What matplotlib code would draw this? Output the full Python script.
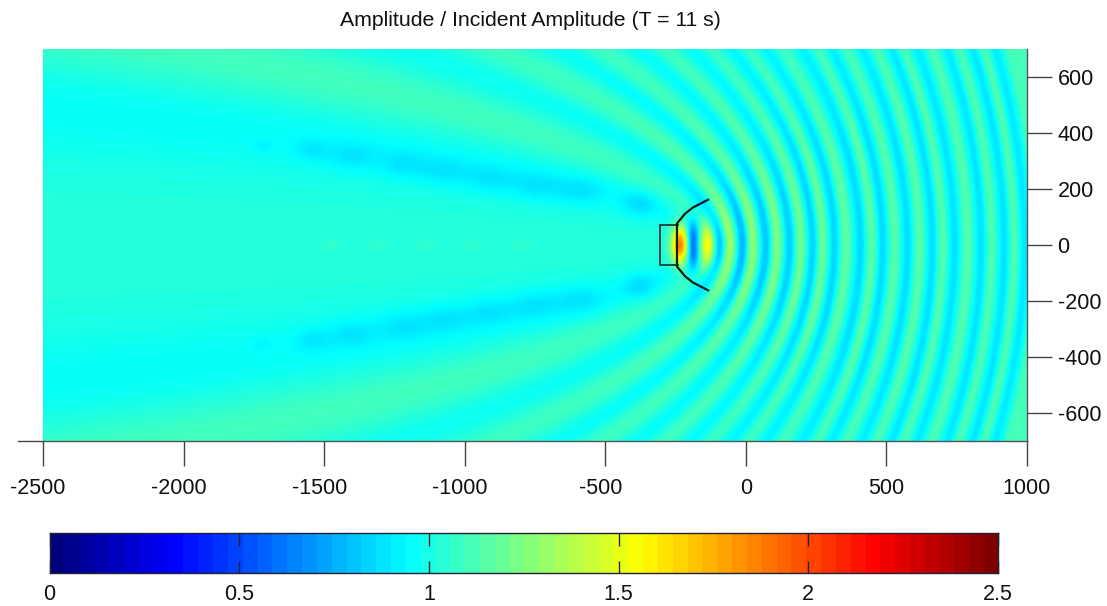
import numpy as np
import matplotlib
matplotlib.use("Agg")
import matplotlib.pyplot as plt
from matplotlib.colors import LinearSegmentedColormap
from matplotlib.lines import Line2D
from matplotlib.transforms import ScaledTranslation

plt.rcParams['font.family'] = ['Liberation Sans', 'DejaVu Sans']

# --- values ---
title = "Amplitude / Incident Amplitude (T = 11 s)"
x_ticks = [-2500, -2000, -1500, -1000, -500, 0, 500, 1000]
y_ticks = [-600, -400, -200, 0, 200, 400, 600]
cb_ticks = [0, 0.5, 1, 1.5, 2, 2.5]
cb_labels = ["0", "0.5", "1", "1.5", "2", "2.5"]

focus_x = -190
# ring extrema read on the axis y = 0, seaward of the structure
axis_x = [-190, -130, -95, -56, -10, 25, 72, 111, 157, 196, 239, 274, 317, 356, 410, 449,
          488, 531, 577, 619, 666, 701, 744, 790, 840, 875, 922, 957, 993, 1040]
axis_v = [1.05, 1.0, 0.70, 1.32, 0.76, 1.28, 0.80, 1.24, 0.82, 1.21, 0.83, 1.19, 0.84, 1.17, 0.85, 1.16,
          0.85, 1.15, 0.86, 1.15, 0.86, 1.14, 0.87, 1.14, 0.87, 1.13, 0.87, 1.13, 0.88, 1.12]
# broad bands of the lee side, against the parabolic ring coordinate
wake_s = [0, 50, 130, 220, 300, 390, 470, 560, 640, 730, 1400]
wake_v = [1.02, 0.95, 1.10, 0.98, 1.07, 0.98, 1.06, 0.98, 1.05, 0.99, 1.0]
# share of the seaward rings by bearing from the structure
bearing = [0, 30, 50, 70, 100, 130, 160, 180]
share = [1.0, 0.92, 0.72, 0.5, 0.28, 0.12, 0.0, 0.0]
# local spots: x, y, change of value, half-widths (mirrored in y where y != 0)
spot_x = [-232, -186, -138, -1721, -1543, -1401, -1223, -1070, -910, -750, -590, -376,
          -1480, -1310, -1140, -975, -800]
spot_y = [0, 0, 0, 354, 340, 318, 290, 262, 236, 210, 194, 148,
          0, 0, 0, 0, 0]
spot_dv = [0.88, -0.60, 0.56, -0.04, -0.07, -0.08, -0.08, -0.08, -0.08, -0.08, -0.08, -0.10,
           0.04, 0.04, 0.04, 0.04, 0.04]
spot_sx = [22, 18, 24, 25, 48, 60, 65, 65, 65, 65, 65, 45,
           25, 25, 25, 25, 25]
spot_sy = [50, 58, 58, 16, 28, 36, 38, 38, 38, 38, 38, 34,
           15, 15, 15, 15, 15]
# outline of the structure
basin_x = [-241, -305, -305, -241]
basin_y = [71, 71, -71, -71]
arm_x = [-134, -188, -216, -245, -245, -216, -188, -134]
arm_y = [162, 134, 112, 77, -77, -112, -134, -162]

# --- field ---
x = np.linspace(-2500, 1000, 701)
y = np.linspace(-700, 700, 281)
X, Y = np.meshgrid(x, y)
R = np.hypot(X - focus_x, Y)
S = R + X - focus_x
TH = np.degrees(np.arctan2(np.abs(Y), X - focus_x))


def eased(q, qs, vs):
    qs = np.asarray(qs, float)
    vs = np.asarray(vs, float)
    i = np.clip(np.searchsorted(qs, q) - 1, 0, len(qs) - 2)
    t = np.clip((q - qs[i]) / (qs[i + 1] - qs[i]), 0, 1)
    return vs[i] + (vs[i + 1] - vs[i]) * (1 - np.cos(np.pi * t)) / 2


forward = eased(S / 2 + focus_x, axis_x, axis_v)
wake = eased(S, wake_s, wake_v)
F = np.interp(TH, bearing, share)
Z = 1 + F * (forward - 1) + (1 - F) * (wake - 1)
for sx0, sy0, dv, wx, wy in zip(spot_x, spot_y, spot_dv, spot_sx, spot_sy):
    Z = Z + dv * np.exp(-((X - sx0) / wx) ** 2 / 2 - ((Y - sy0) / wy) ** 2 / 2)
    if sy0 != 0:
        Z = Z + dv * np.exp(-((X - sx0) / wx) ** 2 / 2 - ((Y + sy0) / wy) ** 2 / 2)

jet = LinearSegmentedColormap.from_list("jet_m", [
    (0.0, (0, 0, 0.5)), (0.125, (0, 0, 1)), (0.375, (0, 1, 1)),
    (0.625, (1, 1, 0)), (0.875, (1, 0, 0)), (1.0, (0.5, 0, 0))], N=256)
jet64 = jet.resampled(64)

W, H = 1107, 606
fig = plt.figure(figsize=(W / 100, H / 100), dpi=100)
ax = fig.add_axes([43 / W, 1 - 441 / H, 984 / W, 392 / H])
ax.imshow(Z, extent=[x[0], x[-1], y[0], y[-1]], origin="lower", cmap=jet, vmin=0, vmax=2.5,
          aspect="auto", interpolation="bilinear")
ax.plot(basin_x, basin_y, color="#1c2a2a", lw=1.2)
ax.plot(arm_x, arm_y, color="#151a1a", lw=1.6)
ax.set_xlim(-2500, 1000)
ax.set_ylim(-700, 700)
for side in ("top", "left"):
    ax.spines[side].set_visible(False)
for side in ("bottom", "right"):
    ax.spines[side].set_color("#555555")
    ax.spines[side].set_linewidth(1.0)
ax.set_xticks(x_ticks)
ax.set_yticks(y_ticks)
ax.yaxis.tick_right()
ax.tick_params(axis="both", length=18, width=1.0, color="#444444", labelsize=15.5,
               labelcolor="#111111")
ax.tick_params(axis="x", pad=9)
ax.tick_params(axis="y", pad=4)
ax.set_xticklabels([str(v) for v in x_ticks])
ax.set_yticklabels([str(v) for v in y_ticks])
shift = ScaledTranslation(-5 / 100, 0, fig.dpi_scale_trans)
for val, lab in zip(x_ticks, ax.get_xticklabels()):
    if val < 0:
        lab.set_transform(lab.get_transform() + shift)
fig.add_artist(Line2D([18 / W, 43 / W], [1 - 441 / H] * 2, color="#444444", lw=1.0))
fig.text(530 / W, 1 - 21 / H, title, ha="center", va="center", fontsize=15.3, color="#111111")

cax = fig.add_axes([49.5 / W, 1 - 573 / H, 948.5 / W, 40 / H])
grad = np.linspace(0, 2.5, 64)[None, :]
cax.imshow(grad, extent=[0, 2.5, 0, 1], aspect="auto", cmap=jet64, vmin=0, vmax=2.5,
           interpolation="nearest")
cax.set_xlim(0, 2.5)
cax.set_yticks([])
cax.set_xticks(cb_ticks)
cax.set_xticklabels(cb_labels)
cax.tick_params(axis="x", length=9, width=1.0, direction="in", top=True, color="#222233",
                labelsize=15.5, pad=8, labelcolor="#111111")
for sp in cax.spines.values():
    sp.set_color("#222233")
    sp.set_linewidth(1.0)

fig.savefig("out.png", dpi=100)
